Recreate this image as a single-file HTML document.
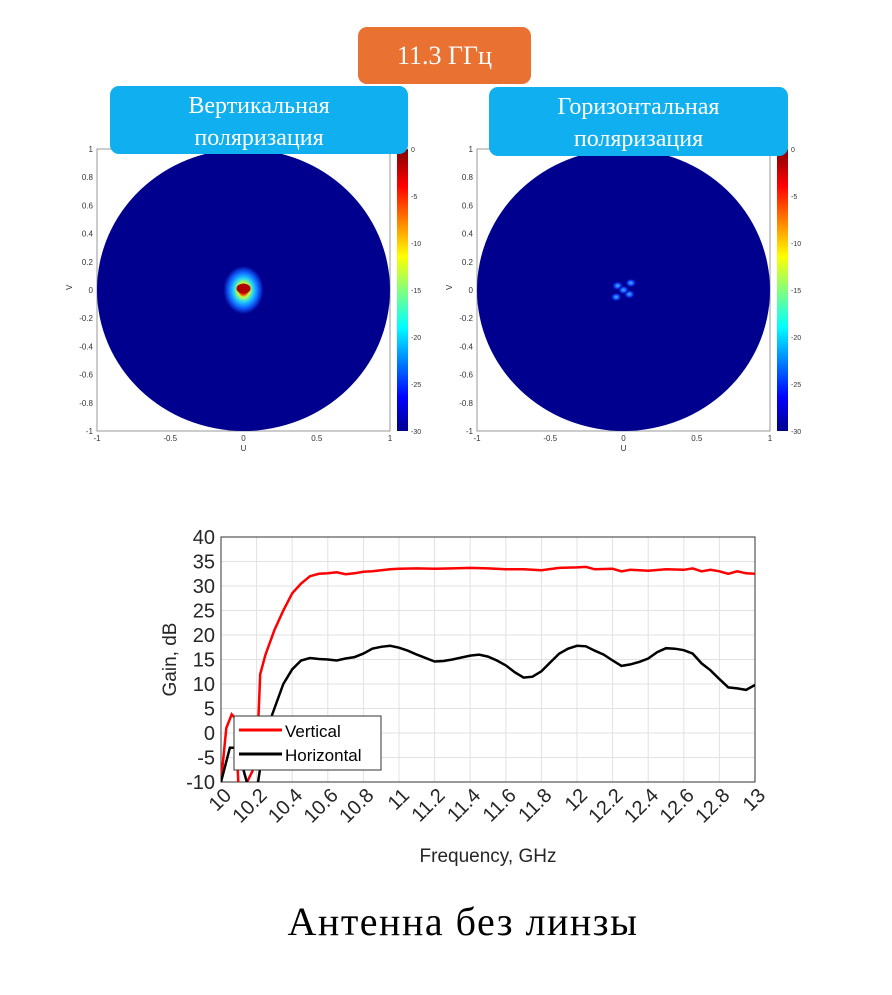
<!DOCTYPE html>
<html><head><meta charset="utf-8">
<style>
body{margin:0;width:892px;height:995px;background:#fff;position:relative;overflow:hidden;font-family:"Liberation Sans",sans-serif}
.box{position:absolute;color:#fff;font-family:"Liberation Serif",serif;text-align:center;border-radius:9px}
</style></head><body>
<div class="box" style="left:358px;top:27px;width:173px;height:57px;background:#E97132;font-size:26px;line-height:57px">11.3 ГГц</div>
<svg id="maps" width="892" height="470" style="position:absolute;left:0;top:0">
<defs>
<linearGradient id="jet" x1="0" y1="1" x2="0" y2="0">
<stop offset="0" stop-color="#00008f"/><stop offset="0.12" stop-color="#0000ff"/><stop offset="0.37" stop-color="#00ffff"/><stop offset="0.62" stop-color="#ffff00"/><stop offset="0.87" stop-color="#ff0000"/><stop offset="1" stop-color="#800000"/>
</linearGradient>
<radialGradient id="spotV"><stop offset="0" stop-color="#a00000"/><stop offset="0.18" stop-color="#ff2000"/><stop offset="0.3" stop-color="#c0ff40"/><stop offset="0.5" stop-color="#20d0ff"/><stop offset="0.75" stop-color="#1060ff"/><stop offset="1" stop-color="#00008f"/></radialGradient>
<radialGradient id="spotH"><stop offset="0" stop-color="#40c0ff"/><stop offset="0.6" stop-color="#1040ff"/><stop offset="1" stop-color="#00008f"/></radialGradient>
</defs>
<g id="mapL"></g><g id="mapR"></g>
</svg>
<div class="box" style="left:110px;top:86px;width:298px;height:68px;background:#10AFEF;font-size:24px;line-height:32px;padding-top:4px;box-sizing:border-box">Вертикальная<br>поляризация</div>
<div class="box" style="left:489px;top:87px;width:299px;height:69px;background:#10AFEF;font-size:24px;line-height:32px;padding-top:4px;box-sizing:border-box">Горизонтальная<br>поляризация</div>
<svg id="chart" width="892" height="360" style="position:absolute;left:0;top:510px"></svg>
<div style="position:absolute;left:0;width:926px;top:898px;text-align:center;font-family:'Liberation Serif',serif;font-size:40px;letter-spacing:1.5px;color:#000">Антенна без линзы</div>
<script>
const NS="http://www.w3.org/2000/svg";
function mk(p,t,a){const e=document.createElementNS(NS,t);for(const k in a)e.setAttribute(k,a[k]);p.appendChild(e);return e;}
const mapTicks=[-1,-0.8,-0.6,-0.4,-0.2,0,0.2,0.4,0.6,0.8,1];
const uTicks=[-1,-0.5,0,0.5,1];
const cbTicks=[0,-5,-10,-15,-20,-25,-30];
function drawMap(g,x0,spot,name){
  const top=149,bot=431,w=293,x1=x0+w;
  const sx=u=>x0+(u+1)/2*w, sy=v=>bot-(v+1)/2*(bot-top);
  mk(g,'rect',{x:x0,y:top,width:w,height:bot-top,fill:'#fff',stroke:'#999','stroke-width':1});
  const c=mk(g,'ellipse',{cx:sx(0),cy:sy(0),rx:w/2,ry:(bot-top)/2,fill:'#00008f'});
  
  if(spot==='V'){
    mk(g,'ellipse',{cx:sx(0),cy:sy(0),rx:20,ry:24,fill:'url(#spotV)'});
    mk(g,'ellipse',{cx:sx(0),cy:sy(0.01),rx:7,ry:5,fill:'#b00000'});
  } else {
    [[-0.04,0.03],[0.04,-0.03],[-0.05,-0.05],[0.05,0.05],[0,0]].forEach(p=>mk(g,'ellipse',{cx:sx(p[0]),cy:sy(p[1]),rx:5,ry:4,fill:'url(#spotH)'}));
  }
  mapTicks.forEach(v=>{const t=mk(g,'text',{x:x0-4,y:sy(v)+3,'font-size':8,'text-anchor':'end',fill:'#333'});t.textContent=v;});
  uTicks.forEach(u=>{const t=mk(g,'text',{x:sx(u),y:bot+10,'font-size':8,'text-anchor':'middle',fill:'#333'});t.textContent=u;});
  let t=mk(g,'text',{x:sx(0),y:bot+20,'font-size':8,'text-anchor':'middle',fill:'#333'});t.textContent='U';
  t=mk(g,'text',{x:x0-28,y:sy(0)+3,'font-size':8,fill:'#333',transform:`rotate(-90 ${x0-28} ${sy(0)})`});t.textContent='V';
  const cb=x1+7;
  mk(g,'rect',{x:cb,y:top,width:11,height:bot-top,fill:'url(#jet)'});
  cbTicks.forEach(v=>{const y=top+(-v)/30*(bot-top);const t=mk(g,'text',{x:cb+14,y:y+3,'font-size':7,fill:'#333'});t.textContent=v;});
}
drawMap(document.getElementById('mapL'),97,'V','vertical-map');
drawMap(document.getElementById('mapR'),477,'H','horizontal-map');

const freqV=[10.0,10.03,10.06,10.08,10.1,10.12,10.2,10.22,10.25,10.3,10.35,10.4,10.45,10.5,10.55,10.6,10.65,10.7,10.75,10.8,10.85,10.9,10.95,11.0,11.1,11.2,11.3,11.4,11.5,11.6,11.7,11.8,11.9,12.0,12.05,12.1,12.2,12.25,12.3,12.4,12.5,12.6,12.65,12.7,12.75,12.8,12.85,12.9,12.95,13.0];
const gainV=[-10,1,3.8,3,-12,-12,-6,12,16,21,25,28.5,30.5,32,32.5,32.6,32.8,32.4,32.6,32.9,33,33.2,33.4,33.5,33.6,33.5,33.6,33.7,33.6,33.4,33.4,33.2,33.7,33.8,33.9,33.4,33.5,33.0,33.3,33.1,33.4,33.3,33.6,33.0,33.3,33.0,32.5,33.0,32.6,32.5];
const freqH=[10.0,10.05,10.1,10.13,10.16,10.18,10.2,10.25,10.3,10.35,10.4,10.45,10.5,10.55,10.6,10.65,10.7,10.75,10.8,10.85,10.9,10.95,11.0,11.05,11.1,11.2,11.25,11.3,11.4,11.45,11.5,11.55,11.6,11.65,11.7,11.75,11.8,11.85,11.9,11.95,12.0,12.05,12.1,12.15,12.2,12.25,12.3,12.35,12.4,12.45,12.5,12.55,12.6,12.65,12.7,12.75,12.8,12.85,12.9,12.95,13.0];
const gainH=[-10,-3,-3,-8,-12,-12,-12,0,5,10,13,14.8,15.3,15.1,15,14.8,15.2,15.5,16.2,17.2,17.6,17.8,17.4,16.8,16,14.6,14.7,15,15.8,16,15.6,14.8,13.8,12.4,11.3,11.5,12.6,14.4,16.2,17.2,17.8,17.7,16.8,16,14.8,13.7,14,14.5,15.2,16.5,17.3,17.2,16.9,16.2,14.2,12.8,11,9.3,9.1,8.8,9.8];
const yTicks=[40,35,30,25,20,15,10,5,0,-5,-10];
const xTicks=[10,10.2,10.4,10.6,10.8,11,11.2,11.4,11.6,11.8,12,12.2,12.4,12.6,12.8,13];
const L=221,R=755,T=27,B=272;
const X=f=>L+(f-10)/3*(R-L), Y=g=>B-(g+10)/50*(B-T);
const s=document.getElementById('chart');
mk(s,'defs',{}).innerHTML='<clipPath id="pc"><rect x="'+L+'" y="'+T+'" width="'+(R-L)+'" height="'+(B-T)+'"/></clipPath>';
mk(s,'rect',{x:L,y:T,width:R-L,height:B-T,fill:'#fff'});
xTicks.forEach(f=>mk(s,'line',{x1:X(f),x2:X(f),y1:T,y2:B,stroke:'#e2e2e2'}));
yTicks.forEach(g=>mk(s,'line',{x1:L,x2:R,y1:Y(g),y2:Y(g),stroke:'#e2e2e2'}));
mk(s,'rect',{x:L,y:T,width:R-L,height:B-T,fill:'none',stroke:'#333','stroke-width':1});
yTicks.forEach(g=>{const t=mk(s,'text',{x:L-6,y:Y(g)+7,'font-size':20,'text-anchor':'end',fill:'#262626'});t.textContent=g;});
xTicks.forEach(f=>{const x=X(f)+3,y=B+6;const t=mk(s,'text',{x:x,y:y,'font-size':20,'text-anchor':'end',fill:'#262626',transform:`rotate(-45 ${x} ${y})`,dy:'0.6em'});t.textContent=f;});
let t=mk(s,'text',{x:(L+R)/2,y:B+80,'font-size':19,'text-anchor':'middle',fill:'#262626'});t.textContent='Frequency, GHz';
t=mk(s,'text',{x:176,y:(T+B)/2,'font-size':19,'text-anchor':'middle',fill:'#262626',transform:`rotate(-90 176 ${(T+B)/2})`});t.textContent='Gain, dB';
const pts=(fs,gs)=>fs.map((f,i)=>X(f).toFixed(1)+','+Y(gs[i]).toFixed(1)).join(' ');
const lv=mk(s,'polyline',{points:pts(freqV,gainV),fill:'none',stroke:'#f00','stroke-width':2.5,'clip-path':'url(#pc)'});


const lh=mk(s,'polyline',{points:pts(freqH,gainH),fill:'none',stroke:'#000','stroke-width':2.5,'clip-path':'url(#pc)'});


const lg=mk(s,'g',{});


mk(lg,'rect',{x:234,y:206,width:147,height:54,fill:'#fff',stroke:'#333'});
mk(lg,'line',{x1:239,x2:282,y1:220,y2:220,stroke:'#f00','stroke-width':3});
mk(lg,'line',{x1:239,x2:282,y1:244,y2:244,stroke:'#000','stroke-width':3});
t=mk(lg,'text',{x:285,y:227,'font-size':17,fill:'#000'});t.textContent='Vertical';
t=mk(lg,'text',{x:285,y:251,'font-size':17,fill:'#000'});t.textContent='Horizontal';
</script>
</body></html>
